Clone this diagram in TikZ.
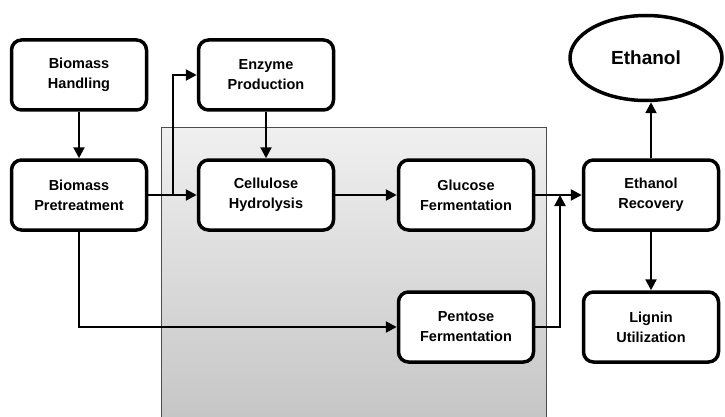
\documentclass[tikz,border=0pt]{standalone}
\usepackage{fontspec}
\setmainfont{Liberation Sans}
\usetikzlibrary{arrows.meta,shapes.geometric}
\begin{document}
\begin{tikzpicture}[x=1pt,y=-1pt,
  procbox/.style={draw=black,line width=3.5pt,rounded corners=10pt,fill=white,
    minimum width=135pt,minimum height=70pt,align=center,
    font=\fontsize{14.5}{20}\selectfont\bfseries},
  flow/.style={line width=2.3pt,-{Triangle[length=11pt,width=11pt]}},
]
\useasboundingbox (0,0) rectangle (725,417);
\shade[top color=gray!12,bottom color=gray!45,draw=black!70,line width=1pt]
  (161,128) rectangle (546,420);
\node[procbox] (hand) at (79,75) {Biomass\\Handling};
\node[procbox] (enz) at (266,75) {Enzyme\\Production};
\node[procbox] (pre) at (79,195) {Biomass\\Pretreatment};
\node[procbox] (cel) at (266,195) {Cellulose\\Hydrolysis};
\node[procbox] (glu) at (466,195) {Glucose\\Fermentation};
\node[procbox] (rec) at (651,195) {Ethanol\\Recovery};
\node[procbox] (pen) at (466,327) {Pentose\\Fermentation};
\node[procbox] (lig) at (651,327) {Lignin\\Utilization};
\node[draw=black,line width=3.5pt,ellipse,minimum width=152pt,minimum height=85pt,
  font=\fontsize{19}{22}\selectfont\bfseries] (eth) at (646,58) {Ethanol};
\coordinate (br) at (173,195);
\coordinate (mj) at (560,195);
\draw[flow] (hand) -- (pre);
\draw[flow] (pre) -- (cel);
\draw[flow] (br) |- (enz);
\draw[flow] (enz) -- (cel);
\draw[flow] (cel) -- (glu);
\draw[flow] (glu) -- (rec);
\draw[flow] (pen.east) -| (mj);
\draw[flow] (pre.south) |- (pen.west);
\draw[flow] (rec.north) -- (rec.north |- eth.south);
\draw[flow] (rec) -- (lig);
\end{tikzpicture}
\end{document}
